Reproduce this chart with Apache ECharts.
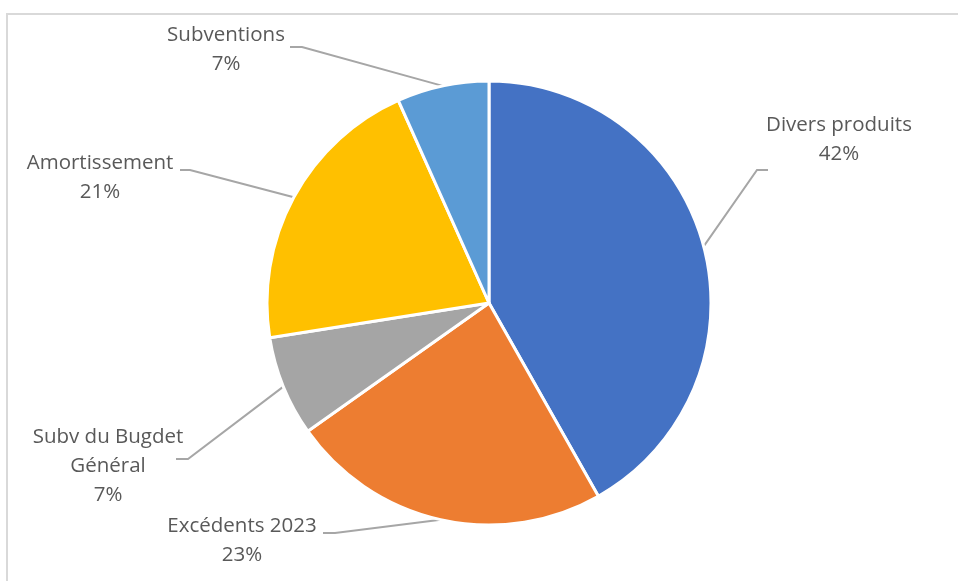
<!DOCTYPE html>
<html>
<head>
<meta charset="utf-8">
<script src="https://cdn.jsdelivr.net/npm/echarts@6/dist/echarts.min.js"></script>
<style>
  html, body { margin: 0; padding: 0; background: #ffffff; }
  #chart { width: 958px; height: 581px; }
</style>
</head>
<body>
<div id="chart"></div>
<script>
// ---- data ----
var categories = ['Divers produits', 'Excédents 2023', 'Subv du Bugdet\nGénéral', 'Amortissement', 'Subventions'];
var values = [41.8, 23.4, 7.3, 20.8, 6.7];
var colors = ['#4472C4', '#ED7D31', '#A5A5A5', '#FFC000', '#5B9BD5'];

// ---- label placement (style only): block centre, leader attach offset, knee length ----
var labelPlace = [
  { x: 839, y: 140, ax: -71, ay: 30, h: -11 },
  { x: 242, y: 541, ax: 81,  ay: -8, h: 12 },
  { x: 108, y: 466, ax: 68,  ay: -7, h: 12 },
  { x: 100, y: 178, ax: 80,  ay: -8, h: 10 },
  { x: 226, y: 50,  ax: 64,  ay: -3, h: 12 }
];

var chart = echarts.init(document.getElementById('chart'), null, { renderer: 'canvas' });

var seriesData = categories.map(function (c, i) {
  return { name: c, value: values[i], itemStyle: { color: colors[i] } };
});

chart.setOption({
  backgroundColor: '#ffffff',
  animation: false,
  graphic: [{
    type: 'rect',
    shape: { x: 7, y: 14, width: 1000, height: 600 },
    style: { fill: 'none', stroke: '#d9d9d9', lineWidth: 2 },
    silent: true, z: -10
  }],
  series: [{
    type: 'pie',
    center: [489, 303],
    radius: 222,
    startAngle: 90,
    clockwise: true,
    avoidLabelOverlap: false,
    percentPrecision: 0,
    data: seriesData,
    itemStyle: { borderColor: '#ffffff', borderWidth: 3 },
    label: {
      show: true,
      position: 'outside',
      formatter: '{b}\n{d}%',
      fontFamily: '"Open Sans", sans-serif',
      fontSize: 20.5,
      lineHeight: 29,
      color: '#595959',
      align: 'center',
      overflow: 'none'
    },
    labelLine: {
      show: true,
      length: 10,
      length2: 10,
      lineStyle: { color: '#a6a6a6', width: 2 }
    },
    emphasis: { disabled: true },
    labelLayout: function (p) {
      var L = labelPlace[p.dataIndex];
      var ax = L.x + L.ax, ay = L.y + L.ay;
      var pts = p.labelLinePoints;
      var start = pts && pts[0] ? pts[0] : [ax + L.h, ay];
      return {
        x: L.x, y: L.y, align: 'center', verticalAlign: 'middle',
        labelLinePoints: [start, [ax + L.h, ay], [ax, ay]]
      };
    }
  }]
});
</script>
</body>
</html>
